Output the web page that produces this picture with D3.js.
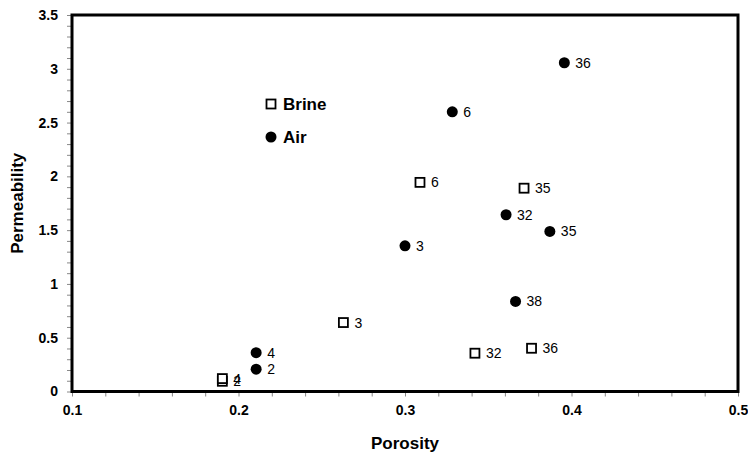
<!DOCTYPE html>
<html><head><meta charset="utf-8">
<script src="https://cdn.jsdelivr.net/npm/d3@7/dist/d3.min.js"></script>
<style>body{margin:0;background:#fff}svg{display:block}text{font-family:"Liberation Sans",Arial,sans-serif}</style>
</head><body><svg id="c" width="748" height="457"></svg>
<script>
const airLabels = ["2","4","3","6","32","35","36","38"];
const airPorosity = [0.2106,0.2106,0.300,0.3284,0.3607,0.387,0.3957,0.3664];
const airPerm = [0.207,0.361,1.354,2.60,1.643,1.488,3.056,0.837];
const brineLabels = ["2","4","3","6","32","35","36"];
const brinePorosity = [0.1903,0.1903,0.263,0.309,0.342,0.3715,0.376];
const brinePerm = [0.095,0.12,0.641,1.944,0.356,1.89,0.402];
const xTicks = [0.1,0.2,0.3,0.4,0.5];
const yTicks = [0,0.5,1,1.5,2,2.5,3,3.5];
const xTitle = "Porosity", yTitle = "Permeability";
const legendNames = ["Brine","Air"];

const svg = d3.select("#c");
const L=72,R=738,T=15,B=391.5;
const x = d3.scaleLinear().domain([0.1,0.5]).range([L,R]);
const y = d3.scaleLinear().domain([0,3.5]).range([B,T]);

// minor ticks
const xMinor = d3.range(0,21).map(i=>0.1+i*0.02);
const yMinor = d3.range(0,36).map(i=>i*0.1);
svg.append("g").attr("transform",`translate(0,${B})`)
  .call(d3.axisBottom(x).tickValues(xMinor).tickSize(5).tickFormat(""))
  .call(g=>{g.select(".domain").remove();g.selectAll("line").attr("stroke","#888");});
svg.append("g").attr("transform",`translate(${L},0)`)
  .call(d3.axisLeft(y).tickValues(yMinor).tickSize(5).tickFormat(""))
  .call(g=>{g.select(".domain").remove();g.selectAll("line").attr("stroke","#888");});

// labeled axes
svg.append("g").attr("transform",`translate(0,${B})`)
  .call(d3.axisBottom(x).tickValues(xTicks).tickSize(0).tickPadding(14).tickFormat(d3.format(".1f")))
  .call(g=>{g.select(".domain").remove();g.selectAll("text").attr("font-size",14).attr("font-weight","bold").attr("fill","#000").style("font-family","Liberation Sans, Arial");});
svg.append("g").attr("transform",`translate(${L},0)`)
  .call(d3.axisLeft(y).tickValues(yTicks).tickSize(0).tickPadding(14).tickFormat(d=>d3.format("")(d)))
  .call(g=>{g.select(".domain").remove();g.selectAll("text").attr("font-size",14).attr("font-weight","bold").attr("fill","#000").style("font-family","Liberation Sans, Arial");});

// frame
svg.append("rect").attr("x",L).attr("y",T).attr("width",R-L).attr("height",B-T)
  .attr("fill","none").attr("stroke","#000").attr("stroke-width",3);

// titles
svg.append("text").attr("x",(L+R)/2).attr("y",449).attr("text-anchor","middle")
  .attr("font-size",17).attr("font-weight","bold").text(xTitle);
svg.append("text").attr("transform",`translate(23,${(T+B)/2}) rotate(-90)`).attr("text-anchor","middle")
  .attr("font-size",17).attr("font-weight","bold").text(yTitle);

const air = airLabels.map((l,i)=>({l,x:airPorosity[i],y:airPerm[i]}));
const brine = brineLabels.map((l,i)=>({l,x:brinePorosity[i],y:brinePerm[i]}));

const S=9;
svg.append("g").selectAll("rect").data(brine).join("rect")
  .attr("x",d=>x(d.x)-S/2).attr("y",d=>y(d.y)-S/2).attr("width",S).attr("height",S)
  .attr("fill","#fff").attr("stroke","#000").attr("stroke-width",1.8);
svg.append("g").selectAll("text").data(brine).join("text")
  .attr("x",d=>x(d.x)+11).attr("y",d=>y(d.y)+5).attr("font-size",14).text(d=>d.l);

svg.append("g").selectAll("circle").data(air).join("circle")
  .attr("cx",d=>x(d.x)).attr("cy",d=>y(d.y)).attr("r",5.5).attr("fill","#000");
svg.append("g").selectAll("text").data(air).join("text")
  .attr("x",d=>x(d.x)+11).attr("y",d=>y(d.y)+5).attr("font-size",14).text(d=>d.l);

// legend
const lg = svg.append("g");
lg.append("rect").attr("x",271-S/2).attr("y",104-S/2).attr("width",S).attr("height",S)
  .attr("fill","#fff").attr("stroke","#000").attr("stroke-width",1.8);
lg.append("circle").attr("cx",271).attr("cy",137).attr("r",5.5).attr("fill","#000");
lg.append("text").attr("x",283).attr("y",110).attr("font-size",17).attr("font-weight","bold").text(legendNames[0]);
lg.append("text").attr("x",283).attr("y",143).attr("font-size",17).attr("font-weight","bold").text(legendNames[1]);
</script></body></html>
